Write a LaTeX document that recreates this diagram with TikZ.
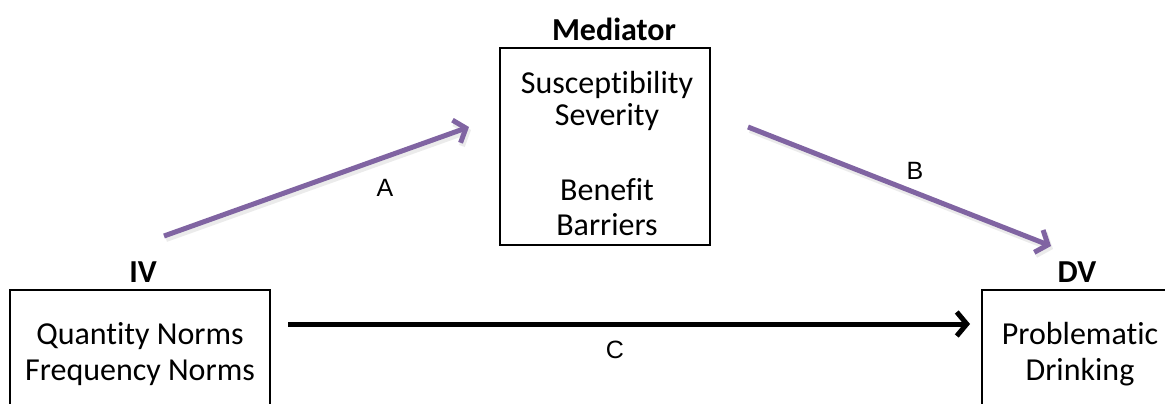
\documentclass[tikz,border=0pt]{standalone}
\usepackage{fontspec}
\setmainfont{Carlito}[Ligatures=NoCommon]
\newfontfamily\arialfont{Liberation Sans}
\usetikzlibrary{arrows.meta}
\definecolor{purp}{HTML}{8064A2}
\begin{document}
\begin{tikzpicture}[x=1pt,y=-1pt,
  box/.style={draw, line width=2pt, rectangle, inner sep=0pt, align=center,
    font=\fontsize{32}{36}\selectfont},
  txt/.style={inner sep=0pt, align=center, font=\fontsize{32}{35}\selectfont},
  ttl/.style={inner sep=0pt, font=\fontsize{32}{35}\selectfont\bfseries},
  lbl/.style={inner sep=0pt, font=\arialfont\fontsize{25}{30}\selectfont},
  arr/.style={line width=5pt, -{Straight Barb[length=10pt,width=24pt]}},
  parr/.style={arr, purp},
  shad/.style={line width=6pt, black, opacity=0.08, -{Straight Barb[length=10pt,width=24pt]}}
]
\useasboundingbox (0,0) rectangle (1165,404);
\clip (0,0) rectangle (1165,404);

% boxes
\node[box, minimum width=260pt, minimum height=128pt] (iv) at (140,354)
  {Quantity Norms\\Frequency Norms};
\node[box, minimum width=196pt, minimum height=128pt] (dv) at (1080,354)
  {Problematic\\Drinking};
\node[box, minimum width=210pt, minimum height=197pt] (med) at (605,146.5) {};
\node[txt] (medtxt) at (607,154)
  {Susceptibility\\[-3pt]Severity\\[40pt]Benefit\\Barriers};

% titles
\node[ttl] (ivt) at (143,272) {IV};
\node[ttl] (dvt) at (1077,272) {DV};
\node[ttl] (medt) at (614,29) {Mediator};

% connector ends
\coordinate (a1) at (164,236);
\coordinate (a2) at (469,127);
\coordinate (b1) at (748,127);
\coordinate (b2) at (1051,246);
\coordinate (c1) at (288,324);
\coordinate (c2) at (970,324);

% shadows
\draw[shad, transform canvas={xshift=2pt,yshift=-3pt}] (a1) -- (a2);
\draw[shad, transform canvas={xshift=2pt,yshift=-3pt}] (b1) -- (b2);

% arrows
\draw[parr] (a1) -- (a2);
\draw[parr] (b1) -- (b2);
\draw[arr] (c1) -- (c2);

% labels
\node[lbl] (la) at (385,188) {A};
\node[lbl] (lb) at (915,171) {B};
\node[lbl] (lc) at (615,350) {C};
\end{tikzpicture}
\end{document}
